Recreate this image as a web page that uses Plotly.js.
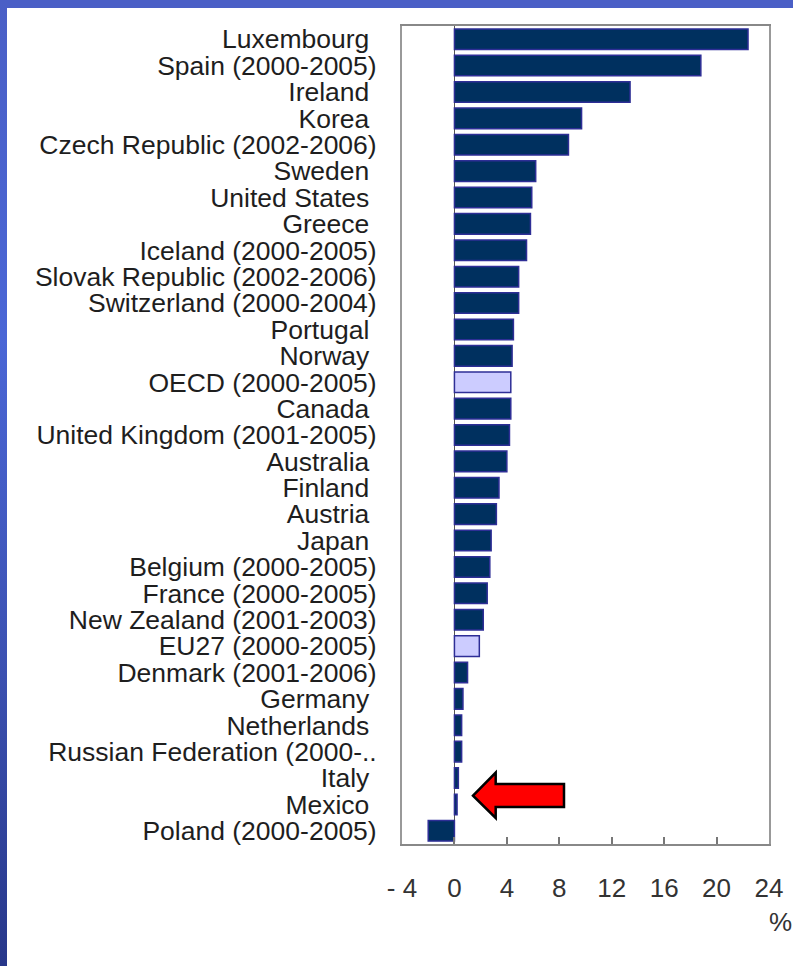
<!DOCTYPE html>
<html>
<head>
<meta charset="utf-8">
<script src="https://cdn.plot.ly/plotly-3.0.1.min.js"></script>
<style>
  html, body { margin: 0; padding: 0; width: 793px; height: 966px; overflow: hidden; background: #ffffff; }
  #topstrip { position: absolute; left: 0; top: 0; width: 793px; height: 8px; background: #4a5fc6; }
  #leftstrip { position: absolute; left: 0; top: 0; width: 7px; height: 966px;
               background: linear-gradient(to bottom, #4a5fc6 0%, #4a66d6 35%, #3b50b0 70%, #27378a 100%); }
  #chart { position: absolute; left: 0; top: 0; width: 793px; height: 966px; }
</style>
</head>
<body>
<div id="topstrip"></div>
<div id="leftstrip"></div>
<div id="chart"></div>
<script>
const countries = [
  "Luxembourg\u00A0", "Spain (2000-2005)", "Ireland\u00A0", "Korea\u00A0", "Czech Republic (2002-2006)",
  "Sweden\u00A0", "United States\u00A0", "Greece\u00A0", "Iceland (2000-2005)", "Slovak Republic (2002-2006)",
  "Switzerland (2000-2004)", "Portugal\u00A0", "Norway\u00A0", "OECD (2000-2005)", "Canada\u00A0",
  "United Kingdom (2001-2005)", "Australia\u00A0", "Finland\u00A0", "Austria\u00A0", "Japan\u00A0",
  "Belgium (2000-2005)", "France (2000-2005)", "New Zealand (2001-2003)", "EU27 (2000-2005)", "Denmark (2001-2006)",
  "Germany\u00A0", "Netherlands\u00A0", "Russian Federation (2000-..", "Italy\u00A0", "Mexico\u00A0",
  "Poland (2000-2005)"
];
const growth = [
  22.4, 18.8, 13.4, 9.7, 8.7,
  6.2, 5.9, 5.8, 5.5, 4.9,
  4.9, 4.5, 4.4, 4.3, 4.3,
  4.2, 4.0, 3.4, 3.2, 2.8,
  2.7, 2.5, 2.2, 1.9, 1.0,
  0.65, 0.55, 0.55, 0.3, 0.2,
  -2.0
];
const aggregates = ["OECD (2000-2005)", "EU27 (2000-2005)"];
const xTickVals = [-4, 0, 4, 8, 12, 16, 20, 24];
const xTickText = ["- 4", "0", "4", "8", "12", "16", "20", "24"];

const fillColors = countries.map(c => aggregates.includes(c) ? "#ccccff" : "#00305f");

const trace = {
  type: "bar",
  orientation: "h",
  x: growth,
  y: countries,
  marker: { color: fillColors, line: { color: "#2e2e96", width: 1.5 } },
  hoverinfo: "x+y"
};

const layout = {
  width: 793, height: 966,
  margin: { l: 402, r: 24, t: 26, b: 122 },
  paper_bgcolor: "rgba(0,0,0,0)",
  plot_bgcolor: "#ffffff",
  showlegend: false,
  bargap: 0.22,
  font: { family: "'Liberation Sans', Arial, sans-serif", color: "#222222" },
  xaxis: {
    range: [-4, 24],
    tickmode: "array", tickvals: xTickVals, ticktext: xTickText,
    ticks: "inside", ticklen: 7, tickwidth: 2, tickcolor: "#777777",
    showgrid: false,
    zeroline: true, zerolinecolor: "#555555", zerolinewidth: 1.5,
    showline: true, linecolor: "#888888", linewidth: 2, mirror: true,
    tickfont: { size: 26, color: "#333333" },
    ticklabelstandoff: 20,
    fixedrange: true
  },
  yaxis: {
    type: "category",
    categoryorder: "array", categoryarray: countries,
    tickmode: "array", tickvals: countries, ticktext: countries,
    autorange: "reversed",
    range: [30.5, -0.5],
    ticks: "", showgrid: false, zeroline: false,
    showline: true, linecolor: "#999999", linewidth: 2, mirror: true,
    tickfont: { size: 26.5, color: "#1e1e1e" },
    ticklabelstandoff: 18,
    fixedrange: true
  },
  annotations: [
    { text: "%", xref: "paper", yref: "paper", x: 1.03, y: -0.095, xanchor: "center", yanchor: "middle",
      showarrow: false, font: { size: 26, color: "#333333" } }
  ],
  shapes: [
    { type: "path", xref: "paper", yref: "paper",
      path: "M 0.1935 0.0590 L 0.2553 0.0872 L 0.2553 0.0733 L 0.4414 0.0733 L 0.4414 0.0452 L 0.2553 0.0452 L 0.2553 0.0318 Z",
      fillcolor: "#ff0000", line: { color: "#000000", width: 2.5 } }
  ]
};

Plotly.newPlot("chart", [trace], layout, { displayModeBar: false, staticPlot: true });
</script>
</body>
</html>
